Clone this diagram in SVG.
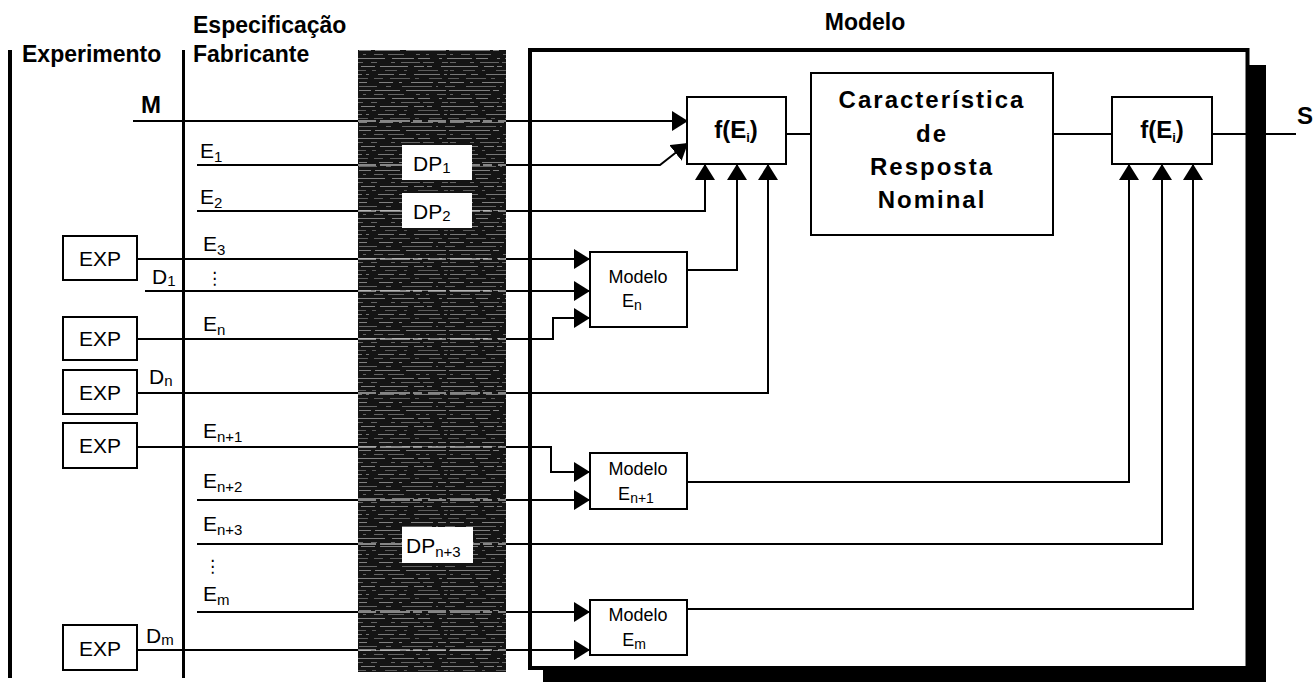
<svg xmlns="http://www.w3.org/2000/svg" width="1316" height="682" viewBox="0 0 1316 682">
<defs>
<style>
.hd{font-family:"Liberation Sans",Arial,sans-serif;font-weight:bold;font-size:23px;fill:#000}
.big{font-family:"Liberation Sans",Arial,sans-serif;font-weight:bold;font-size:24px;fill:#000}
.lb{font-family:"Liberation Sans",Arial,sans-serif;font-size:21px;fill:#000}
.sb{font-size:15px}
.md{font-family:"Liberation Sans",Arial,sans-serif;font-size:18px;fill:#000}
.box{fill:#fff;stroke:#000;stroke-width:2}
.cn{fill:none;stroke:#000;stroke-width:2}
</style>
<marker id="ar" viewBox="0 0 16 20" refX="16" refY="10" markerWidth="16" markerHeight="20" markerUnits="userSpaceOnUse" orient="auto">
<path d="M0,0 L16,10 L0,20 Z" fill="#000"/>
</marker>
<pattern id="tex" width="150" height="40" patternUnits="userSpaceOnUse">
<rect width="150" height="40" fill="#141414"/>
<g stroke="#c8c8c8" stroke-width="1">
<line x1="0" y1="2.5" x2="150" y2="2.5" stroke-dasharray="14 6 3 9 22 5 8 12" opacity="0.6"/>
<line x1="0" y1="6.5" x2="150" y2="6.5" stroke-dasharray="5 11 30 4 2 7 18 9" opacity="0.45"/>
<line x1="0" y1="10.5" x2="150" y2="10.5" stroke-dasharray="40 3 6 10 12 4 25 6" opacity="0.6"/>
<line x1="0" y1="14.5" x2="150" y2="14.5" stroke-dasharray="3 8 9 5 16 12 4 6" opacity="0.45"/>
<line x1="0" y1="18.5" x2="150" y2="18.5" stroke-dasharray="22 4 12 9 3 5 30 7" opacity="0.6"/>
<line x1="0" y1="22.5" x2="150" y2="22.5" stroke-dasharray="6 14 4 6 19 3 11 8" opacity="0.45"/>
<line x1="0" y1="26.5" x2="150" y2="26.5" stroke-dasharray="28 6 10 3 5 9 14 5" opacity="0.6"/>
<line x1="0" y1="30.5" x2="150" y2="30.5" stroke-dasharray="4 9 12 7 3 11 20 6" opacity="0.4"/>
<line x1="0" y1="34.5" x2="150" y2="34.5" stroke-dasharray="16 5 7 8 26 4 3 9" opacity="0.55"/>
<line x1="0" y1="38.5" x2="150" y2="38.5" stroke-dasharray="9 7 20 5 4 10 13 6" opacity="0.4"/>
</g>
</pattern>
</defs>
<rect width="1316" height="682" fill="#fff"/>

<g id="headers">
<text class="hd" x="22" y="62">Experimento</text>
<text class="hd" x="193" y="33">Especificação</text>
<text class="hd" x="193" y="62">Fabricante</text>
<text class="hd" x="865" y="30" text-anchor="middle">Modelo</text>
</g>

<g id="dividers">
<rect x="8" y="50" width="4" height="628" fill="#000"/>
<rect x="182" y="50" width="3" height="628" fill="#000"/>
</g>

<g id="frame">
<rect x="1249" y="65" width="17" height="620" fill="#000"/>
<rect x="543" y="668" width="723" height="16" fill="#000"/>
<rect x="530" y="50" width="717.5" height="618" fill="#fff" stroke="#000" stroke-width="4"/>
</g>

<g id="connectors">
<polyline class="cn" points="133,121 688,121" marker-end="url(#ar)"/>
<polyline class="cn" points="197,165 660,165 688,143" marker-end="url(#ar)"/>
<polyline class="cn" points="197,211 705,211 705,164" marker-end="url(#ar)"/>
<polyline class="cn" points="137,259 590,259" marker-end="url(#ar)"/>
<polyline class="cn" points="145,291 590,291" marker-end="url(#ar)"/>
<polyline class="cn" points="137,339 553,339 553,318 590,318" marker-end="url(#ar)"/>
<polyline class="cn" points="687,270 737,270 737,164" marker-end="url(#ar)"/>
<polyline class="cn" points="137,393 768,393 768,164" marker-end="url(#ar)"/>
<polyline class="cn" points="137,447 551,447 551,472 590,472" marker-end="url(#ar)"/>
<polyline class="cn" points="197,500 590,500" marker-end="url(#ar)"/>
<polyline class="cn" points="687,482 1129,482 1129,164" marker-end="url(#ar)"/>
<polyline class="cn" points="197,544 1162,544 1162,164" marker-end="url(#ar)"/>
<polyline class="cn" points="197,612 590,612" marker-end="url(#ar)"/>
<polyline class="cn" points="137,650 590,650" marker-end="url(#ar)"/>
<polyline class="cn" points="687,609 1193,609 1193,164" marker-end="url(#ar)"/>
<line class="cn" x1="786" y1="134" x2="811" y2="134"/>
<line class="cn" x1="1053" y1="134" x2="1112" y2="134"/>
<line class="cn" x1="1212" y1="134" x2="1296" y2="134"/>
</g>

<g id="band">
<rect x="358" y="50" width="148" height="622" fill="url(#tex)"/>
<g stroke="#e0e0e0" stroke-width="1.5" stroke-dasharray="18 4 30 3 9 6" opacity="0.75">
<line x1="358" y1="121" x2="506" y2="121"/>
<line x1="358" y1="165" x2="506" y2="165"/>
<line x1="358" y1="211" x2="506" y2="211"/>
<line x1="358" y1="259" x2="506" y2="259"/>
<line x1="358" y1="291" x2="506" y2="291"/>
<line x1="358" y1="339" x2="506" y2="339"/>
<line x1="358" y1="393" x2="506" y2="393"/>
<line x1="358" y1="447" x2="506" y2="447"/>
<line x1="358" y1="500" x2="506" y2="500"/>
<line x1="358" y1="544" x2="506" y2="544"/>
<line x1="358" y1="612" x2="506" y2="612"/>
<line x1="358" y1="650" x2="506" y2="650"/>
</g>
</g>

<g id="labels">
<text class="big" x="141" y="113" font-size="26">M</text>
<text class="big" x="1297" y="124" font-size="26">S</text>
<text class="lb" x="200" y="158">E<tspan class="sb" dy="4">1</tspan></text>
<text class="lb" x="200" y="204">E<tspan class="sb" dy="4">2</tspan></text>
<text class="lb" x="203" y="251">E<tspan class="sb" dy="4">3</tspan></text>
<text x="206" y="284" font-family="DejaVu Sans" font-size="17">⋮</text>
<text class="lb" x="152" y="284">D<tspan class="sb" dy="2">1</tspan></text>
<text class="lb" x="203" y="331">E<tspan class="sb" dy="4">n</tspan></text>
<text class="lb" x="149" y="384">D<tspan class="sb" dy="2">n</tspan></text>
<text class="lb" x="203" y="438">E<tspan class="sb" dy="4">n+1</tspan></text>
<text class="lb" x="203" y="488">E<tspan class="sb" dy="4">n+2</tspan></text>
<text class="lb" x="203" y="531">E<tspan class="sb" dy="4">n+3</tspan></text>
<text x="204" y="572" font-family="DejaVu Sans" font-size="17">⋮</text>
<text class="lb" x="203" y="601">E<tspan class="sb" dy="4">m</tspan></text>
<text class="lb" x="146" y="643">D<tspan class="sb" dy="2">m</tspan></text>
</g>

<g id="exp1"><rect class="box" x="63" y="236" width="74" height="44"/><text class="lb" x="100" y="266" text-anchor="middle">EXP</text></g>
<g id="exp2"><rect class="box" x="63" y="317" width="74" height="43"/><text class="lb" x="100" y="346" text-anchor="middle">EXP</text></g>
<g id="exp3"><rect class="box" x="63" y="370" width="74" height="44"/><text class="lb" x="100" y="400" text-anchor="middle">EXP</text></g>
<g id="exp4"><rect class="box" x="63" y="423" width="74" height="45"/><text class="lb" x="100" y="453" text-anchor="middle">EXP</text></g>
<g id="exp5"><rect class="box" x="63" y="625" width="74" height="45"/><text class="lb" x="100" y="656" text-anchor="middle">EXP</text></g>

<g id="dp1"><rect x="402" y="145" width="70" height="35" fill="#fff"/><text class="lb" x="413" y="171">DP<tspan class="sb" dy="2">1</tspan></text></g>
<g id="dp2"><rect x="402" y="193" width="70" height="35" fill="#fff"/><text class="lb" x="413" y="219">DP<tspan class="sb" dy="2">2</tspan></text></g>
<g id="dpn3"><rect x="402" y="527" width="71" height="36" fill="#fff"/><text class="lb" x="406" y="553">DP<tspan class="sb" dy="4">n+3</tspan></text></g>

<g id="f1"><rect class="box" x="687" y="97" width="99" height="67"/><text class="big" x="736" y="138" text-anchor="middle">f(E<tspan font-size="13" dy="4">i</tspan><tspan dy="-4">)</tspan></text></g>
<g id="carac"><rect class="box" x="811" y="73" width="242" height="162"/>
<text class="big" x="932" y="108" text-anchor="middle" letter-spacing="2">Característica</text>
<text class="big" x="932" y="142" text-anchor="middle" letter-spacing="2">de</text>
<text class="big" x="932" y="175" text-anchor="middle" letter-spacing="2">Resposta</text>
<text class="big" x="932" y="208" text-anchor="middle" letter-spacing="2">Nominal</text>
</g>
<g id="f2"><rect class="box" x="1112" y="97" width="100" height="67"/><text class="big" x="1162" y="138" text-anchor="middle">f(E<tspan font-size="13" dy="4">i</tspan><tspan dy="-4">)</tspan></text></g>

<g id="modeloEn"><rect class="box" x="590" y="252" width="97" height="75"/><text class="md" x="638" y="283" text-anchor="middle">Modelo</text><text class="md" x="632" y="307" text-anchor="middle">E<tspan font-size="14" dy="3">n</tspan></text></g>
<g id="modeloEn1"><rect class="box" x="590" y="453" width="97" height="56"/><text class="md" x="638" y="475" text-anchor="middle">Modelo</text><text class="md" x="636" y="500" text-anchor="middle">E<tspan font-size="14" dy="3">n+1</tspan></text></g>
<g id="modeloEm"><rect class="box" x="590" y="600" width="97" height="55"/><text class="md" x="638" y="621" text-anchor="middle">Modelo</text><text class="md" x="634" y="646" text-anchor="middle">E<tspan font-size="14" dy="3">m</tspan></text></g>
</svg>
